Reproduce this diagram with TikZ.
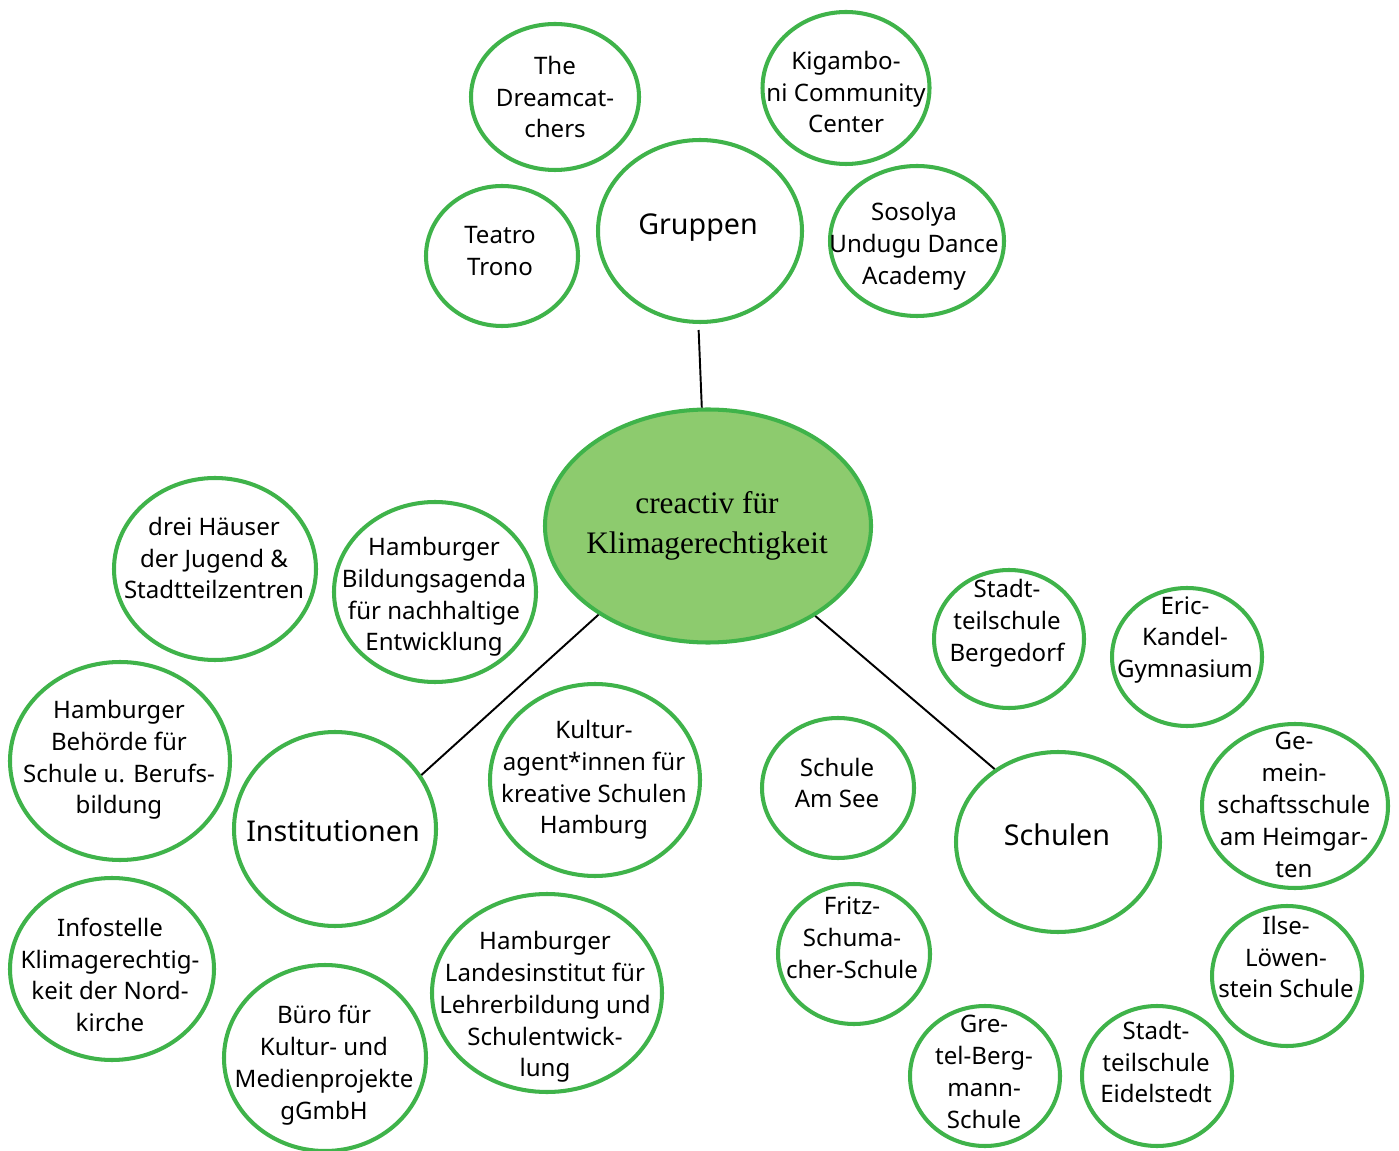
\documentclass[tikz,border=0pt]{standalone}
\usepackage{fontspec}
\setmainfont{Noto Sans}
\newfontfamily\hubfont{Liberation Serif}
\usetikzlibrary{shapes.geometric}

\definecolor{kgreen}{RGB}{63,179,74}
\definecolor{kfill}{RGB}{141,203,110}

\tikzset{
  bub/.style 2 args={ellipse, draw=kgreen, line width=2.3pt, fill=white,
    minimum width=#1*0.02cm, minimum height=#2*0.02cm, inner sep=0pt},
  txt/.style={align=center, inner sep=0pt,
    font=\fontsize{13.7}{18.1}\selectfont},
  big/.style={align=center, inner sep=0pt,
    font=\fontsize{16.3}{20}\selectfont},
  link/.style={line width=1.1pt, black}
}

\begin{document}
\begin{tikzpicture}[x=0.02cm, y=-0.02cm]

\useasboundingbox (0,0) rectangle (1399,1151);

% --- hub ---
\node[bub={326}{233}, fill=kfill] (hub) at (708,526) {};
\node[align=center, inner sep=0pt,
      font=\hubfont\fontsize{17.8}{22.7}\selectfont] (hub-t) at (707,526)
  {creactiv für\\Klimagerechtigkeit};

% ============================================================
% Gruppen
% ============================================================
\node[bub={204}{182}] (grp) at (700,231) {};
\node[big] (grp-t) at (698,228) {Gruppen};

\node[bub={168}{146}] (dream) at (555,97) {};
\node[txt] (dream-t) at (555,97) {The\\Dreamcat-\\chers};

\node[bub={167}{152}] (kiga) at (846,88) {};
\node[txt] (kiga-t) at (846,92) {Kigambo-\\ni Community\\Center};

\node[bub={152}{140}] (teatro) at (502,256) {};
\node[txt] (teatro-t) at (500,251) {Teatro\\Trono};

\node[bub={174}{150}] (sosolya) at (917,241) {};
\node[txt] (sosolya-t) at (914,246) {Sosolya\\Undugu Dance\\Academy};

% ============================================================
% Institutionen
% ============================================================
\node[bub={202}{194}] (inst) at (335,829) {};
\node[big] (inst-t) at (333,831) {Institutionen};

\node[bub={202}{182}] (haeuser) at (215,569) {};
\node[txt] (haeuser-t) at (214,558)
  {drei Häuser\\der Jugend \&\\Stadtteilzentren};

\node[bub={202}{180}] (agenda) at (435,592) {};
\node[txt] (agenda-t) at (434,597)
  {Hamburger\\Bildungsagenda\\für nachhaltige\\Entwicklung};

\node[bub={220}{198}] (behoerde) at (120,761) {};
\node[txt] (behoerde-t) at (119,760)
  {Hamburger\\Behörde für\\Schule u. Berufs-\\bildung};

\node[bub={210}{192}] (kultur) at (595,780) {};
\node[txt] (kultur-t) at (594,780)
  {Kultur-\\agent*innen für\\kreative Schulen\\Hamburg};

\node[bub={204}{182}] (info) at (112,969) {};
\node[txt] (info-t) at (110,975)
  {Infostelle\\Klimagerechtig-\\keit der Nord-\\kirche};

\node[bub={202}{186}] (buero) at (325,1058) {};
\node[txt] (buero-t) at (324,1065)
  {Büro für\\Kultur- und\\Medienprojekte\\gGmbH};

\node[bub={230}{198}] (li) at (547,993) {};
\node[txt] (li-t) at (545,1007)
  {Hamburger\\Landesinstitut für\\Lehrerbildung und\\Schulentwick-\\lung};

% ============================================================
% Schulen
% ============================================================
\node[bub={204}{180}] (sch) at (1058,842) {};
\node[big] (sch-t) at (1057,835) {Schulen};

\node[bub={150}{138}] (berg) at (1009,639) {};
\node[txt] (berg-t) at (1007,623) {Stadt-\\teilschule\\Bergedorf};

\node[bub={150}{138}] (eric) at (1187,657) {};
\node[txt] (eric-t) at (1185,640) {Eric-\\Kandel-\\Gymnasium};

\node[bub={152}{140}] (see) at (838,788) {};
\node[txt] (see-t) at (837,783) {Schule\\Am See};

\node[bub={186}{164}] (heim) at (1295,806) {};
\node[txt] (heim-t) at (1294,805)
  {Ge-\\mein-\\schaftsschule\\am Heimgar-\\ten};

\node[bub={152}{140}] (fritz) at (854,954) {};
\node[txt] (fritz-t) at (852,938) {Fritz-\\Schuma-\\cher-Schule};

\node[bub={150}{140}] (ilse) at (1287,976) {};
\node[txt] (ilse-t) at (1286,957) {Ilse-\\Löwen-\\stein Schule};

\node[bub={150}{140}] (gretel) at (985,1076) {};
\node[txt] (gretel-t) at (984,1072) {Gre-\\tel-Berg-\\mann-\\Schule};

\node[bub={150}{140}] (eidel) at (1157,1076) {};
\node[txt] (eidel-t) at (1156,1062) {Stadt-\\teilschule\\Eidelstedt};

% --- connectors ---
\draw[link, shorten <=6*0.02cm] (grp.-91) -- (hub.93);
\draw[link] (inst.32) -- (hub.219);
\draw[link] (sch.131) -- (hub.320);

\end{tikzpicture}
\end{document}
